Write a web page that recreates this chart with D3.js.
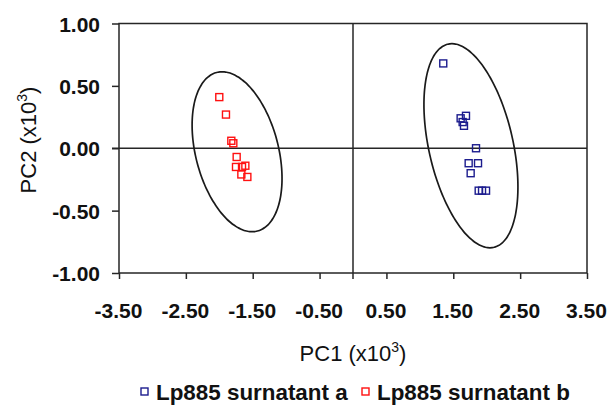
<!DOCTYPE html>
<html>
<head>
<meta charset="utf-8">
<script src="https://cdn.jsdelivr.net/npm/d3@7"></script>
<style>
  html, body { margin: 0; padding: 0; background: #fff; }
  svg { display: block; font-family: "Liberation Sans", Arial, sans-serif; }
</style>
</head>
<body>
<svg id="chart" width="610" height="408"></svg>
<script>
// ---- data (PC scores, x10^3) ----
const seriesNames = ["Lp885 surnatant a", "Lp885 surnatant b"];
const seriesColors = ["#1c1c8e", "#ff1010"];
const aPC1 = [1.35, 1.61, 1.69, 1.64, 1.66, 1.84, 1.73, 1.87, 1.76, 1.88, 1.93, 1.99];
const aPC2 = [0.68, 0.24, 0.26, 0.21, 0.18, 0.00, -0.12, -0.12, -0.20, -0.34, -0.34, -0.34];
const bPC1 = [-2.00, -1.90, -1.82, -1.79, -1.74, -1.75, -1.66, -1.61, -1.67, -1.58];
const bPC2 = [0.41, 0.27, 0.06, 0.04, -0.07, -0.15, -0.15, -0.14, -0.21, -0.23];
const xTicks = [-3.5, -2.5, -1.5, -0.5, 0.5, 1.5, 2.5, 3.5];
const yTicks = [-1.0, -0.5, 0.0, 0.5, 1.0];
// confidence ellipses: centre and two conjugate semi-diameters (data units)
const ellipseCenters = [[1.764, 0.02], [-1.734, -0.028]];
const ellipseAxesU = [[-0.284, 0.818], [-0.224, 0.641]];
const ellipseAxesV = [[0.643, 0.0], [0.634, 0.0]];

// ---- layout ----
const svg = d3.select("#chart");
const L = 119, R = 587, T = 23.5, B = 273;
const x = d3.scaleLinear().domain([-3.5, 3.5]).range([L, R]);
const y = d3.scaleLinear().domain([-1, 1]).range([B, T]);
const axisColor = "#262626";
const fmt = d => d.toFixed(2);

// plot frame
svg.append("rect").attr("x", L).attr("y", T).attr("width", R - L).attr("height", B - T)
  .attr("fill", "none").attr("stroke", axisColor).attr("stroke-width", 1.5);

// zero lines
svg.append("line").attr("x1", L - 7).attr("x2", R).attr("y1", y(0)).attr("y2", y(0))
  .attr("stroke", axisColor).attr("stroke-width", 1.5);
svg.append("line").attr("x1", x(0)).attr("x2", x(0)).attr("y1", T).attr("y2", B + 6)
  .attr("stroke", axisColor).attr("stroke-width", 1.5);

// x axis
const xAxis = svg.append("g").attr("transform", `translate(0,${B})`)
  .call(d3.axisBottom(x).tickValues(xTicks).tickSize(6).tickPadding(12).tickFormat(fmt));
xAxis.select(".domain").remove();
xAxis.selectAll(".tick line").attr("stroke", axisColor).attr("stroke-width", 1.5);
xAxis.selectAll(".tick text").attr("font-size", 21).attr("font-weight", "bold")
  .attr("fill", "#111").attr("font-family", "Liberation Sans, Arial, sans-serif")
  .attr("dy", "1.28em").attr("dx", "-1px");

// y axis
const yAxis = svg.append("g").attr("transform", `translate(${L},0)`)
  .call(d3.axisLeft(y).tickValues(yTicks).tickSize(7).tickPadding(12).tickFormat(fmt));
yAxis.select(".domain").remove();
yAxis.selectAll(".tick line").attr("stroke", axisColor).attr("stroke-width", 1.5);
yAxis.selectAll(".tick text").attr("font-size", 21).attr("font-weight", "bold")
  .attr("fill", "#111").attr("font-family", "Liberation Sans, Arial, sans-serif")
  .attr("dy", "0.36em");

// axis titles
const t1 = svg.append("text").attr("x", x(0)).attr("y", 361).attr("text-anchor", "middle")
  .attr("font-size", 22).attr("fill", "#111");
t1.append("tspan").text("PC1 (x10");
t1.append("tspan").text("3").attr("font-size", 14).attr("dy", -9);
t1.append("tspan").text(")").attr("dy", 9);

const t2 = svg.append("text").attr("transform", `translate(36,140) rotate(-90)`)
  .attr("text-anchor", "middle").attr("font-size", 22).attr("fill", "#111");
t2.append("tspan").text("PC2 (x10");
t2.append("tspan").text("3").attr("font-size", 14).attr("dy", -9);
t2.append("tspan").text(")").attr("dy", 9);

// ellipses
const tt = d3.range(0, 361, 3).map(d => d * Math.PI / 180);
ellipseCenters.forEach((c, i) => {
  const u = ellipseAxesU[i], v = ellipseAxesV[i];
  const pts = tt.map(t => [x(c[0] + u[0] * Math.cos(t) + v[0] * Math.sin(t)),
                          y(c[1] + u[1] * Math.cos(t) + v[1] * Math.sin(t))]);
  svg.append("path").attr("d", d3.line().curve(d3.curveCardinalClosed)(pts.slice(0, -1)))
    .attr("fill", "none").attr("stroke", "#1a1a1a").attr("stroke-width", 1.7);
});

// points
const sq = 7;
const series = [
  aPC1.map((d, i) => [d, aPC2[i]]),
  bPC1.map((d, i) => [d, bPC2[i]])
];
series.forEach((pts, si) => {
  svg.append("g").selectAll("rect").data(pts).join("rect")
    .attr("x", d => x(d[0]) - sq / 2).attr("y", d => y(d[1]) - sq / 2)
    .attr("width", sq).attr("height", sq)
    .attr("fill", "none").attr("stroke", seriesColors[si]).attr("stroke-width", 1.4);
});

// legend
const legendX = [141, 362];
seriesNames.forEach((name, i) => {
  const g = svg.append("g").attr("transform", `translate(${legendX[i]},392)`);
  g.append("rect").attr("x", 0).attr("y", -4).attr("width", 7).attr("height", 7)
    .attr("fill", "none").attr("stroke", seriesColors[i]).attr("stroke-width", 1.4);
  g.append("text").attr("x", 15).attr("y", 0).attr("dy", "0.36em")
    .attr("font-size", 22.4).attr("font-weight", "bold").attr("fill", "#111").text(name);
});
</script>
</body>
</html>
